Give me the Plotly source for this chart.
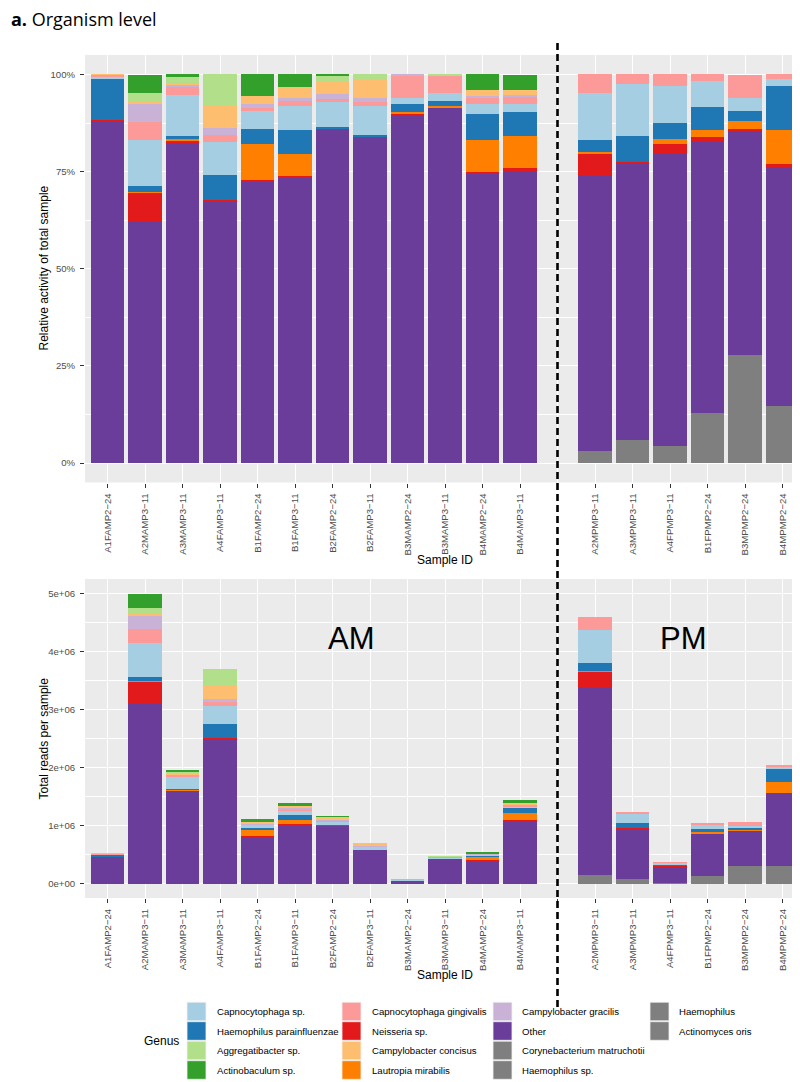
import plotly.graph_objects as go

# ---------------- data ----------------
samples_am = ["A1FAMP2−24", "A2MAMP3−11", "A3MAMP3−11", "A4FAMP3−11", "B1FAMP2−24", "B1FAMP3−11",
              "B2FAMP2−24", "B2FAMP3−11", "B3MAMP2−24", "B3MAMP3−11", "B4MAMP2−24", "B4MAMP3−11"]
samples_pm = ["A2MPMP3−11", "A3MPMP3−11", "A4FPMP3−11", "B1FPMP2−24", "B3MPMP2−24", "B4MPMP2−24"]

# total reads per sample (AM then PM)
total_am = [0.51e6, 5.0e6, 1.94e6, 3.70e6, 1.12e6, 1.38e6, 1.16e6, 0.69e6, 0.065e6, 0.47e6, 0.54e6, 1.44e6]
total_pm = [4.58e6, 1.23e6, 0.37e6, 1.03e6, 1.06e6, 2.04e6]

# relative activity (%) per genus: 12 AM samples then 6 PM samples
capno_sp      = [0.6, 11.7, 10.5, 8.6, 4.5, 6.0, 6.5, 7.5, 1.7, 2.1, 2.6, 2.1,   12.2, 13.3, 9.7, 6.7, 3.3, 1.8]
h_parainfl    = [10.5, 1.5, 0.9, 6.4, 3.9, 6.3, 0.2, 0.35, 2.1, 1.3, 6.7, 6.3,   3.0, 6.7, 4.1, 5.7, 2.6, 11.5]
aggregatib    = [0, 2.3, 1.7, 7.9, 0, 0, 1.4, 1.3, 0, 0.35, 0, 0,                0, 0, 0, 0, 0, 0]
actinobac     = [0, 4.7, 0.6, 0, 5.6, 3.3, 0.35, 0, 0, 0, 4.2, 4.0,              0, 0, 0, 0, 0, 0]
c_gingivalis  = [0.6, 4.7, 2.0, 1.7, 0.9, 1.3, 0.9, 0.9, 5.7, 4.3, 1.7, 1.7,     4.9, 2.5, 2.9, 1.9, 6.0, 1.2]
neisseria     = [0.35, 7.4, 0.35, 0.6, 0.35, 0.35, 0.35, 0.25, 0.2, 0, 0.35, 0.4, 5.7, 0.5, 2.5, 0.9, 0.35, 0.8]
c_concisus    = [0.1, 0.4, 0.4, 6.0, 2.1, 2.8, 3.4, 4.7, 0, 0, 1.4, 1.1,        0, 0, 0, 0, 0, 0]
lautropia     = [0, 0.35, 0.35, 0, 9.4, 5.7, 0, 0, 0.35, 0.4, 8.3, 8.3,         0.35, 0, 1.3, 2.0, 2.1, 8.7]
c_gracilis    = [0, 4.7, 0.6, 1.7, 0.9, 0.9, 1.2, 1.2, 0.35, 0, 0.35, 0.6,      0, 0, 0, 0, 0, 0]
other         = [87.9, 62.1, 82.6, 67.1, 72.4, 73.4, 85.8, 83.8, 89.7, 91.5, 74.5, 75.4,
                 70.8, 71.0, 75.1, 69.9, 57.8, 61.4]
coryneb       = [0]*12 + [3.2, 6.0, 4.4, 13.0, 27.8, 14.7]
haemophilus_sp = [0]*18
haemophilus   = [0]*18
actinomyces   = [0]*18

genus_names = ["Capnocytophaga sp.", "Haemophilus parainfluenzae", "Aggregatibacter sp.", "Actinobaculum sp.",
               "Capnocytophaga gingivalis", "Neisseria sp.", "Campylobacter concisus", "Lautropia mirabilis",
               "Campylobacter gracilis", "Other", "Corynebacterium matruchotii", "Haemophilus sp.",
               "Haemophilus", "Actinomyces oris"]
genus_colors = ["#A6CEE3", "#1F78B4", "#B2DF8A", "#33A02C", "#FB9A99", "#E31A1C", "#FDBF6F", "#FF7F00",
                "#CAB2D6", "#6A3D9A", "#7F7F7F", "#7F7F7F", "#7F7F7F", "#7F7F7F"]
genus_values = [capno_sp, h_parainfl, aggregatib, actinobac, c_gingivalis, neisseria, c_concisus, lautropia,
                c_gracilis, other, coryneb, haemophilus_sp, haemophilus, actinomyces]
# bottom -> top stacking order
stack_order = ["Actinomyces oris", "Haemophilus", "Haemophilus sp.", "Corynebacterium matruchotii", "Other",
               "Neisseria sp.", "Lautropia mirabilis", "Haemophilus parainfluenzae", "Capnocytophaga sp.",
               "Capnocytophaga gingivalis", "Campylobacter gracilis", "Campylobacter concisus",
               "Aggregatibacter sp.", "Actinobaculum sp."]

yticks_top = [0, 0.25, 0.5, 0.75, 1.0]
yticklabels_top = ["0%", "25%", "50%", "75%", "100%"]
yticks_bot = [0, 1e6, 2e6, 3e6, 4e6, 5e6]
yticklabels_bot = ["0e+00", "1e+06", "2e+06", "3e+06", "4e+06", "5e+06"]

# ---------------- layout helpers ----------------
W, H = 800, 1082
L, R, T, B = 77, 3, 47, 192
PW, PH = W - L - R, H - T - B


def fx(px):
    return (px - L) / PW


def fy(py):
    return (H - B - py) / PH


SPACER = " "
cats = samples_am + [SPACER] + samples_pm
totals = total_am + [None] + total_pm
col_of = dict(zip(genus_names, genus_colors))
val_of = dict(zip(genus_names, genus_values))

fig = go.Figure()
for g in stack_order:
    v = val_of[g]
    pct = [p / 100 for p in v[:12]] + [None] + [p / 100 for p in v[12:]]
    reads = [None if (p is None) else p * t for p, t in zip(pct, totals)]
    fig.add_trace(go.Bar(x=cats, y=pct, marker=dict(color=col_of[g], line=dict(width=0)),
                         name=g, showlegend=False, xaxis="x", yaxis="y"))
    fig.add_trace(go.Bar(x=cats, y=reads, marker=dict(color=col_of[g], line=dict(width=0)),
                         name=g, showlegend=False, xaxis="x2", yaxis="y2"))

tickfont = dict(family="Liberation Sans, Arial, sans-serif", size=9.6, color="#4D4D4D")
xcommon = dict(type="category", categoryorder="array", categoryarray=cats, range=[-0.6, 18.6],
               tickangle=-90, tickfont=tickfont, ticks="outside", ticklen=4, tickcolor="#333333",
               tickwidth=1, showgrid=True, gridcolor="white", gridwidth=1.2, showline=False,
               zeroline=False, ticklabelstandoff=2)
fig.update_layout(
    width=W, height=H, margin=dict(l=L, r=R, t=T, b=B, autoexpand=False),
    paper_bgcolor="white", plot_bgcolor="#EBEBEB", barmode="stack", bargap=0.1,
    showlegend=False,
    xaxis=dict(domain=[0, 1], anchor="y", **xcommon),
    xaxis2=dict(domain=[0, 1], anchor="y2", **xcommon),
    yaxis=dict(domain=[fy(474.5), 1], anchor="x", range=[-0.05, 1.05], tickvals=yticks_top,
               ticktext=yticklabels_top, tickfont=tickfont, ticks="outside", ticklen=4,
               tickcolor="#333333", showgrid=True, gridcolor="white", gridwidth=1.2, zeroline=False,
               minor=dict(dtick=0.125, tick0=0, showgrid=True, gridcolor="white", gridwidth=0.6),
               ticklabelstandoff=3),
    yaxis2=dict(domain=[0, fy(571)], anchor="x2", range=[-0.25e6, 5.25e6], tickvals=yticks_bot,
                ticktext=yticklabels_bot, tickfont=tickfont, ticks="outside", ticklen=4,
                tickcolor="#333333", showgrid=True, gridcolor="white", gridwidth=1.2, zeroline=False,
                minor=dict(dtick=5e5, tick0=0, showgrid=True, gridcolor="white", gridwidth=0.6),
                ticklabelstandoff=3),
)

txt = dict(family="Liberation Sans, Arial, sans-serif", color="black")
ann = []
ann.append(dict(text="<b>a.</b> Organism level", x=fx(1), y=fy(11), xref="paper", yref="paper",
                xanchor="left", yanchor="middle", showarrow=False,
                font=dict(family="Open Sans, Liberation Sans, sans-serif", size=18, color="black")))
ann.append(dict(text="Relative activity of total sample", x=fx(35), y=fy(260.5), xref="paper", yref="paper",
                textangle=-90, showarrow=False, xanchor="center", yanchor="middle", font=dict(size=12, **txt)))
ann.append(dict(text="Total reads per sample", x=fx(35), y=fy(730.5), xref="paper", yref="paper",
                textangle=-90, showarrow=False, xanchor="center", yanchor="middle", font=dict(size=12, **txt)))
for yy in (551.5, 966.5):
    ann.append(dict(text="Sample ID", x=fx(437), y=fy(yy), xref="paper", yref="paper",
                    showarrow=False, xanchor="center", yanchor="middle", font=dict(size=12, **txt)))
ann.append(dict(text="AM", x=fx(343), y=fy(630.5), xref="paper", yref="paper", showarrow=False,
                xanchor="center", yanchor="middle", font=dict(size=31, **txt)))
ann.append(dict(text="PM", x=fx(675.5), y=fy(630.5), xref="paper", yref="paper", showarrow=False,
                xanchor="center", yanchor="middle", font=dict(size=31, **txt)))

shapes = [dict(type="line", xref="paper", yref="paper", x0=fx(549.5), x1=fx(549.5), y0=fy(35), y1=fy(1000),
               line=dict(color="black", width=2.6, dash="7px,4px"))]

# legend (4 rows, column-major like ggplot)
row_y = [1003.5, 1023, 1042.5, 1062]
key_x = [179, 334, 485, 642]
text_x = [207, 362, 512, 669]
KW, KH = 19, 18.6
ann.append(dict(text="Genus", x=fx(173), y=fy(1032.75), xref="paper", yref="paper", showarrow=False,
                xanchor="right", yanchor="middle", font=dict(size=12, **txt)))
for i, g in enumerate(genus_names):
    c, r = divmod(i, 4)
    yc = row_y[r]
    shapes.append(dict(type="rect", xref="paper", yref="paper", x0=fx(key_x[c]), x1=fx(key_x[c] + KW),
                       y0=fy(yc - KH / 2), y1=fy(yc + KH / 2), fillcolor=col_of[g],
                       line=dict(color="#F2F2F2", width=0.8)))
    ann.append(dict(text=g, x=fx(text_x[c]), y=fy(yc), xref="paper", yref="paper", showarrow=False,
                    xanchor="left", yanchor="middle", font=dict(size=9.6, **txt)))

fig.update_layout(annotations=ann, shapes=shapes)
fig.write_html("out.html")
